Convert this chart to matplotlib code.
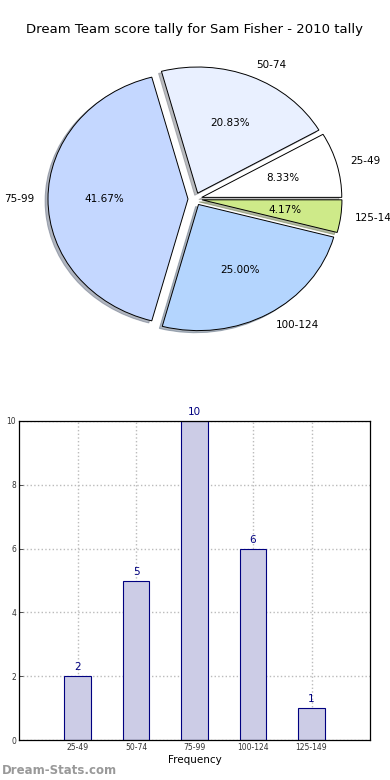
import matplotlib as mpl
mpl.use('agg')
import matplotlib.pyplot as plt

ranges = ['25-49', '50-74', '75-99', '100-124', '125-149']
counts = [2, 5, 10, 6, 1]
colours = ['#ffffff', '#e9f0ff', '#c4d7ff', '#b4d5fe', '#ceea89']
title = 'Dream Team score tally for Sam Fisher - 2010 tally'

fig = plt.figure(figsize=(3.9, 7.8), dpi=100)
fig.text(0.5, 1 - 30/780, title, ha='center', va='center', fontsize=9.5)

# Pie of score ranges (drawn slightly squashed, as in the original).

ax1 = fig.add_axes([13/390, 417/780, 364/390, 328/780])
wedges, texts, autotexts = ax1.pie(
    counts, labels=ranges, colors=colours, explode=[0.05]*len(counts),
    autopct='%.2f%%', shadow={'ox': -0.015, 'oy': -0.012, 'shade': 0.5},
    startangle=0,
    wedgeprops={'edgecolor': 'black', 'linewidth': 0.7},
    textprops={'fontsize': 7.5})
ax1.set_aspect('auto')
ax1.set_xlim(-1.3, 1.3)
ax1.set_ylim(-1.3, 1.3)
ax1.axis('off')

# Bar chart of the same tallies.

ax2 = fig.add_axes([19/390, 40/780, 351/390, 319/780])
xs = list(range(1, len(counts) + 1))
ax2.bar(xs, counts, width=0.45, color='#ccccE6', edgecolor='#000080',
        linewidth=0.8, zorder=2)
for x, c in zip(xs, counts):
    ax2.text(x, c + 0.12, str(c), ha='center', va='bottom', fontsize=7.5,
             color='#000080')
ax2.set_xlim(0, 6)
ax2.set_ylim(0, 10)
ax2.set_xticks(xs)
ax2.set_xticklabels(ranges)
ax2.set_yticks(range(0, 11, 2))
ax2.tick_params(labelsize=5.5, direction='in', length=3, width=0.6,
                colors='#333333', pad=2)
ax2.grid(True, linestyle=':', color='#bbbbbb', linewidth=1, zorder=0)
ax2.set_xlabel('Frequency', fontsize=7.5, labelpad=2)
ax2.set_ylabel('Number of Times', fontsize=7, labelpad=10)
for s in ax2.spines.values():
    s.set_linewidth(0.9)

fig.text(2/390, 1 - 771/780, 'Dream-Stats.com', ha='left', va='center',
         fontsize=8.5, color='#999999', fontweight='bold')

fig.savefig('out.png', dpi=100)
